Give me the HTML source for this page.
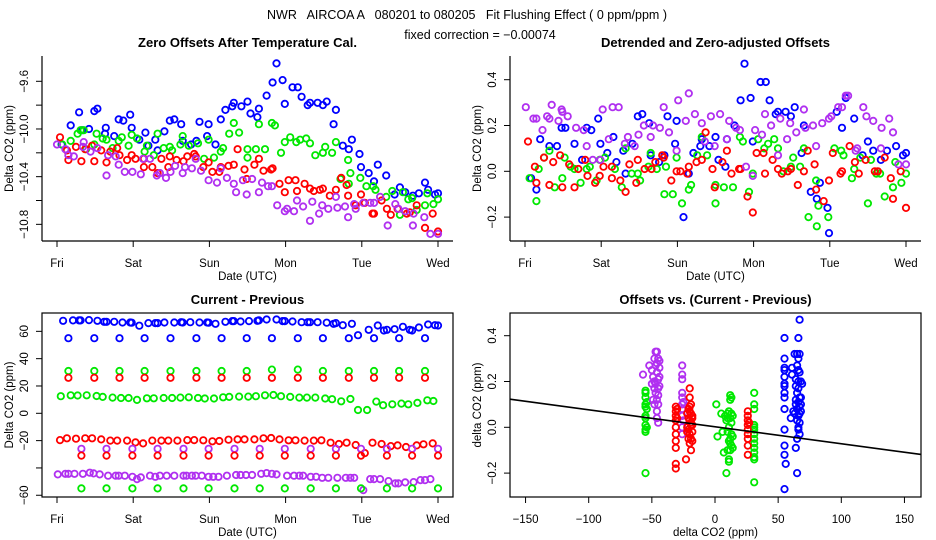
<!DOCTYPE html>
<html><head><meta charset="utf-8"><style>
html,body{margin:0;padding:0;background:#fff;}
svg{display:block;font-family:"Liberation Sans",Arial,sans-serif;}
.tk{font-size:11.5px;}
.tt{font-size:13px;font-weight:bold;}
</style></head><body>
<svg id="c" width="936" height="540" viewBox="0 0 936 540" xmlns="http://www.w3.org/2000/svg">
<text x="467" y="19" text-anchor="middle" font-size="12.5" xml:space="preserve">NWR   AIRCOA A   080201 to 080205   Fit Flushing Effect ( 0 ppm/ppm )</text>
<text x="480" y="39" text-anchor="middle" font-size="12.5">fixed correction = −0.00074</text>
<g id="g1"></g>
<g id="g2"></g>
<g id="g3"></g>
<g id="g4"></g>
</svg>
<script>
// ---------- data ----------
const dayLabels=["Fri","Sat","Sun","Mon","Tue","Wed"];
const p1YTicks=[-9.6,-9.8,-10.0,-10.2,-10.4,-10.6,-10.8];
const p1YLabels=["-9.6","","-10.0","","-10.4","","-10.8"];
const p2YTicks=[0.4,0.2,0.0,-0.2];
const p2YLabels=["0.4","0.2","0.0","-0.2"];
const p3YTicks=[60,40,20,0,-20,-40,-60];
const p3YLabels=["60","40","20","0","-20","","-60"];
const p4XTicks=[-150,-100,-50,0,50,100,150];
const p4YTicks=[0.4,0.2,0.0,-0.2];
const fitSlope=-0.00074;
const fitIntercept=0.002;

const p1BlueDays=[0.06,0.18,0.29,0.33,0.42,0.49,0.53,0.63,0.64,0.75,0.81,0.87,0.96,0.98,1.08,1.16,1.20,1.29,1.32,1.41,1.48,1.54,1.63,1.65,1.76,1.83,1.87,1.99,1.97,2.08,2.15,2.21,2.30,2.32,2.42,2.50,2.54,2.63,2.65,2.75,2.83,2.88,2.96,2.99,3.09,3.16,3.21,3.29,3.32,3.42,3.49,3.54,3.63,3.66,3.75,3.83,3.87,3.97,3.99,4.09,4.16,4.21,4.32,4.43,4.50,4.57,4.67,4.75,4.83,4.87,4.96,5.00];
const p1BlueVals=[-10.13,-9.97,-9.86,-10.01,-10.00,-9.85,-9.83,-10.04,-9.99,-10.06,-9.92,-9.93,-9.88,-9.99,-10.09,-10.03,-10.14,-10.09,-10.18,-10.02,-9.93,-9.92,-9.96,-10.10,-10.13,-10.10,-9.94,-9.96,-10.06,-10.13,-9.92,-9.84,-9.81,-9.78,-9.81,-9.77,-9.87,-9.90,-9.83,-9.72,-9.61,-9.45,-9.59,-9.79,-9.65,-9.65,-9.73,-9.80,-9.78,-9.78,-9.80,-9.77,-9.96,-9.84,-10.14,-10.17,-10.09,-10.21,-10.32,-10.37,-10.44,-10.30,-10.39,-10.55,-10.49,-10.53,-10.56,-10.54,-10.45,-10.51,-10.55,-10.54];
const p1GreenDays=[0.07,0.18,0.27,0.31,0.35,0.38,0.52,0.49,0.60,0.65,0.73,0.81,0.85,0.94,0.98,1.05,1.15,1.18,1.27,1.32,1.40,1.48,1.51,1.62,1.65,1.73,1.85,1.93,1.99,2.06,2.15,2.18,2.26,2.32,2.39,2.50,2.50,2.61,2.65,2.73,2.82,2.86,2.94,2.99,3.06,3.14,3.19,3.27,3.32,3.39,3.49,3.52,3.61,3.66,3.72,3.83,3.85,3.82,3.98,4.06,4.15,4.18,4.32,4.40,4.50,4.54,4.61,4.66,4.72,4.83,4.86,4.94,5.00];
const p1GreenVals=[-10.13,-10.10,-10.04,-10.01,-10.01,-10.17,-10.04,-10.13,-10.08,-10.09,-10.16,-10.10,-10.07,-10.14,-10.05,-10.08,-10.19,-10.14,-10.22,-10.04,-10.16,-10.15,-10.18,-10.13,-10.06,-10.14,-10.12,-10.25,-10.09,-10.24,-10.19,-10.16,-10.04,-9.95,-10.03,-10.24,-10.17,-10.17,-9.96,-10.17,-9.95,-9.97,-10.20,-10.11,-10.07,-10.11,-10.09,-10.08,-10.12,-10.22,-10.20,-10.15,-10.20,-10.11,-10.42,-10.46,-10.37,-10.26,-10.41,-10.48,-10.48,-10.51,-10.57,-10.52,-10.72,-10.53,-10.59,-10.58,-10.68,-10.64,-10.54,-10.63,-10.59];
const p1RedDays=[0.04,0.13,0.15,0.25,0.32,0.37,0.46,0.49,0.58,0.65,0.70,0.79,0.82,0.92,0.98,1.03,1.14,1.14,1.25,1.32,1.37,1.46,1.48,1.57,1.66,1.71,1.80,1.82,1.92,1.99,2.04,2.13,2.15,2.25,2.32,2.37,2.46,2.49,2.59,2.65,2.71,2.81,2.83,2.92,2.99,3.04,3.13,3.15,3.25,3.32,3.37,3.45,3.49,3.58,3.66,3.73,3.82,3.80,3.92,3.99,4.04,4.14,4.16,4.26,4.33,4.38,4.47,4.59,4.63,4.72,4.83,4.93,5.00];
const p1RedVals=[-10.07,-10.18,-10.26,-10.15,-10.27,-10.17,-10.14,-10.27,-10.18,-10.28,-10.19,-10.16,-10.22,-10.26,-10.22,-10.25,-10.32,-10.25,-10.32,-10.37,-10.25,-10.32,-10.23,-10.26,-10.27,-10.23,-10.21,-10.23,-10.32,-10.28,-10.36,-10.36,-10.32,-10.31,-10.30,-10.17,-10.34,-10.42,-10.30,-10.25,-10.35,-10.34,-10.33,-10.46,-10.53,-10.43,-10.43,-10.52,-10.46,-10.50,-10.52,-10.51,-10.50,-10.56,-10.51,-10.41,-10.56,-10.47,-10.64,-10.55,-10.62,-10.71,-10.71,-10.60,-10.67,-10.72,-10.67,-10.71,-10.70,-10.64,-10.83,-10.71,-10.86];
const p1PurpleDays=[0.00,0.11,0.15,0.22,0.34,0.35,0.44,0.53,0.65,0.67,0.77,0.81,0.89,0.99,1.10,1.13,1.22,1.31,1.35,1.43,1.49,1.55,1.65,1.68,1.77,1.82,1.89,1.99,2.10,2.15,2.23,2.32,2.35,2.44,2.49,2.56,2.65,2.69,2.77,2.82,2.89,2.99,3.02,3.11,3.15,3.23,3.32,3.35,3.44,3.48,3.56,3.66,3.68,3.78,3.82,3.90,3.92,4.02,4.11,4.16,4.24,4.34,4.44,4.48,4.57,4.67,4.68,4.82,4.90,5.00];
const p1PurpleVals=[-10.13,-10.17,-10.22,-10.23,-10.15,-10.11,-10.19,-10.16,-10.39,-10.22,-10.23,-10.30,-10.36,-10.36,-10.38,-10.25,-10.25,-10.39,-10.37,-10.41,-10.36,-10.31,-10.37,-10.32,-10.33,-10.25,-10.35,-10.43,-10.45,-10.33,-10.41,-10.46,-10.53,-10.43,-10.55,-10.42,-10.53,-10.45,-10.48,-10.48,-10.64,-10.69,-10.67,-10.69,-10.60,-10.65,-10.77,-10.61,-10.71,-10.64,-10.67,-10.57,-10.66,-10.65,-10.74,-10.63,-10.67,-10.62,-10.62,-10.62,-10.57,-10.81,-10.63,-10.67,-10.69,-10.81,-10.71,-10.74,-10.88,-10.88];

const p2BlueDays=[0.08,0.15,0.20,0.32,0.42,0.48,0.53,0.65,0.75,0.81,0.87,0.96,0.99,1.08,1.16,1.20,1.29,1.32,1.41,1.48,1.54,1.63,1.65,1.76,1.83,1.87,1.99,1.97,2.08,2.15,2.21,2.30,2.32,2.42,2.50,2.54,2.63,2.65,2.75,2.83,2.88,2.96,2.99,3.09,3.16,3.21,3.29,3.32,3.42,3.49,3.54,3.63,3.66,3.75,3.83,3.87,3.97,3.99,4.09,4.16,4.21,4.32,4.43,4.50,4.57,4.67,4.75,4.87,4.96,5.00];
const p2BlueVals=[-0.03,-0.08,0.14,0.11,0.11,0.19,0.19,0.12,0.05,0.19,0.18,0.23,0.12,0.08,0.15,0.04,0.09,-0.01,0.12,0.24,0.25,0.21,0.07,0.04,0.07,0.24,0.22,0.12,-0.20,-0.01,0.08,0.11,0.14,0.11,0.15,0.05,0.02,0.14,0.20,0.31,0.47,0.32,0.13,0.39,0.39,0.31,0.25,0.26,0.26,0.24,0.28,0.08,0.20,-0.09,-0.12,-0.05,-0.16,-0.27,0.26,0.19,0.32,0.23,0.07,0.13,0.09,0.05,0.09,0.11,0.07,0.08];
const p2GreenDays=[0.06,0.18,0.15,0.25,0.32,0.39,0.49,0.52,0.60,0.65,0.73,0.81,0.85,0.94,0.98,1.05,1.18,1.27,1.32,1.40,1.48,1.51,1.62,1.65,1.73,1.85,1.83,1.94,1.99,2.06,2.15,2.18,2.26,2.32,2.39,2.50,2.50,2.61,2.73,2.82,2.86,2.94,2.99,3.06,3.14,3.19,3.27,3.32,3.39,3.49,3.52,3.61,3.66,3.72,3.83,3.85,3.82,3.98,4.06,4.15,4.18,4.29,4.32,4.40,4.50,4.54,4.61,4.66,4.72,4.83,4.86,4.94,5.00];
const p2GreenVals=[-0.03,0.01,-0.13,0.06,0.09,-0.07,-0.03,0.06,0.02,0.01,-0.05,0.01,0.02,-0.04,0.05,0.06,0.01,-0.07,0.10,-0.01,-0.01,-0.04,0.02,0.08,0.01,0.02,-0.10,-0.10,0.06,-0.14,-0.08,-0.06,0.07,0.15,0.07,-0.14,-0.06,-0.07,-0.07,0.15,0.13,-0.09,-0.01,0.14,0.10,0.12,0.14,0.10,0.00,0.02,0.06,0.02,0.10,-0.20,-0.24,-0.15,-0.04,-0.20,0.10,0.09,0.07,-0.03,0.01,0.06,-0.14,0.05,-0.01,-0.01,-0.11,-0.07,0.04,-0.05,-0.01];
const p2RedDays=[0.04,0.13,0.15,0.25,0.32,0.37,0.46,0.49,0.58,0.65,0.70,0.79,0.82,0.92,0.98,1.03,1.14,1.14,1.25,1.32,1.37,1.46,1.48,1.57,1.66,1.71,1.80,1.82,1.92,1.99,2.04,2.13,2.15,2.25,2.32,2.37,2.46,2.49,2.59,2.65,2.71,2.81,2.83,2.92,2.99,3.04,3.13,3.15,3.25,3.32,3.37,3.45,3.49,3.58,3.66,3.71,3.82,3.80,3.92,3.99,4.04,4.14,4.16,4.26,4.33,4.38,4.47,4.59,4.63,4.72,4.80,4.83,4.93,5.00];
const p2RedVals=[0.13,0.02,-0.05,0.06,-0.06,0.04,0.07,-0.07,0.03,-0.07,0.01,0.05,-0.02,-0.05,-0.02,0.02,0.02,-0.03,-0.04,-0.09,0.03,-0.05,0.05,0.01,0.01,0.04,0.07,0.06,-0.04,0.00,0.00,-0.01,0.02,0.04,0.05,0.17,0.01,-0.07,0.04,0.09,-0.01,0.01,0.01,-0.11,-0.18,0.08,0.08,-0.01,0.05,0.01,-0.01,0.00,0.01,-0.06,0.00,0.09,-0.08,0.03,-0.13,-0.04,0.08,-0.01,0.00,0.11,0.04,-0.01,0.05,0.00,0.00,0.06,-0.03,-0.12,0.00,-0.16];
const p2PurpleDays=[0.01,0.11,0.15,0.23,0.29,0.32,0.35,0.44,0.48,0.49,0.56,0.67,0.77,0.81,0.89,0.99,1.02,1.10,1.15,1.23,1.31,1.35,1.44,1.49,1.56,1.65,1.68,1.77,1.82,1.89,1.99,2.01,2.11,2.15,2.23,2.32,2.36,2.44,2.49,2.56,2.65,2.68,2.77,2.82,2.90,2.99,3.02,3.11,3.15,3.23,3.32,3.35,3.44,3.48,3.56,3.66,3.68,3.78,3.82,3.90,3.99,4.02,4.11,4.16,4.21,4.24,4.34,4.36,4.44,4.48,4.57,4.67,4.68,4.78,4.83,4.90,5.00];
const p2PurpleVals=[0.28,0.23,0.23,0.18,0.24,0.23,0.29,0.22,0.27,0.26,0.24,0.19,0.18,0.11,0.05,0.05,0.27,0.14,0.28,0.28,0.12,0.15,0.11,0.16,0.20,0.15,0.20,0.19,0.28,0.17,0.09,0.31,0.22,0.34,0.25,0.21,0.13,0.24,0.11,0.25,0.14,0.22,0.19,0.18,0.02,-0.02,0.18,0.16,0.25,0.20,0.07,0.23,0.14,0.21,0.17,0.27,0.19,0.20,0.11,0.21,0.23,0.24,0.28,0.28,0.33,0.33,0.09,0.10,0.28,0.24,0.22,0.10,0.19,0.23,0.17,0.03,0.03];

const fixedDaysA=[0.15,0.49,0.82,1.15,1.49,1.83,2.16,2.49,2.82,3.16,3.49,3.83,4.16,4.49,4.83];
const fixedDaysB=[0.32,0.65,0.99,1.32,1.66,1.99,2.33,2.66,2.99,3.33,3.66,3.99,4.33,4.66,5.00];
const p3BlueFixedVals=[55,55,55,55,55,55,55,55,55,55,55,55,55,55,55];
const p3GreenFixedVals=[31,31,31,31,31,31,31,31,32,32,31,31,31,31,31];
const p3RedFixedVals=[26,26,26,26,26,26,26,26,26,26,26,26,26,26,26];
const p3PurpleFixedVals=[-26,-26,-26,-26,-26,-26,-26,-26,-26,-26,-26,-26,-26,-26,-26];
const p3RedFixed2Vals=[-31,-31,-31,-31,-31,-31,-31,-31,-31,-31,-31,-31,-31,-31,-31];
const p3GreenFixed2Vals=[-55,-55,-55,-55,-55,-55,-55,-55,-55,-55,-55,-55,-55,-55,-55];
const p3BlueDays=[0.08,0.21,0.29,0.31,0.42,0.53,0.62,0.65,0.75,0.86,0.96,0.98,1.08,1.20,1.29,1.32,1.41,1.54,1.63,1.65,1.75,1.87,1.97,1.99,2.08,2.21,2.30,2.32,2.41,2.52,2.63,2.65,2.75,2.88,2.96,2.99,3.09,3.21,3.29,3.32,3.42,3.54,3.63,3.66,3.75,3.87,3.95,4.09,4.21,4.29,4.33,4.43,4.54,4.63,4.66,4.75,4.87,4.96,5.00];
const p3BlueVals=[67.7,68.0,68.0,68.0,68.2,67.7,67.0,67.0,67.0,66.5,66.5,66.3,64.1,66.0,66.0,66.0,66.5,66.5,66.7,66.5,66.7,66.5,66.5,66.3,65.5,67.0,67.5,67.5,67.2,67.5,67.7,68.0,68.7,68.7,67.5,67.5,67.2,66.7,66.7,66.7,66.7,66.3,65.5,66.0,64.5,65.5,57.2,61.1,64.3,60.6,61.1,61.6,63.3,61.1,60.6,62.8,65.0,64.5,64.3];
const p3GreenDays=[0.05,0.18,0.27,0.39,0.52,0.60,0.73,0.84,0.94,1.05,1.18,1.27,1.40,1.51,1.62,1.73,1.85,1.94,2.06,2.18,2.26,2.39,2.51,2.61,2.73,2.84,2.94,3.06,3.18,3.28,3.39,3.52,3.61,3.73,3.85,3.95,4.07,4.19,4.28,4.40,4.52,4.61,4.73,4.86,4.94];
const p3GreenVals=[12.5,13.2,13.0,13.2,12.7,12.0,11.5,11.2,11.2,9.8,11.0,11.0,11.2,11.2,11.5,11.7,11.2,10.8,10.8,11.7,12.0,12.2,12.2,12.5,13.2,13.4,12.5,12.0,11.5,11.5,11.5,10.8,10.3,8.8,10.5,2.4,2.4,8.6,5.9,6.6,7.1,6.6,7.6,9.5,9.0];
const p3RedDays=[0.04,0.13,0.25,0.37,0.46,0.58,0.70,0.79,0.92,1.03,1.13,1.25,1.37,1.46,1.58,1.71,1.80,1.92,2.04,2.13,2.25,2.37,2.46,2.59,2.71,2.81,2.92,3.04,3.13,3.25,3.37,3.47,3.59,3.70,3.80,3.92,4.04,4.14,4.26,4.38,4.47,4.58,4.72,4.81,4.93];
const p3RedVals=[-19.6,-18.3,-18.6,-18.3,-18.3,-19.1,-20.0,-20.0,-20.0,-21.3,-22.0,-20.0,-20.0,-20.0,-20.0,-19.6,-19.6,-19.8,-20.5,-20.3,-19.3,-19.1,-19.1,-19.1,-18.3,-18.1,-19.1,-19.8,-19.8,-20.0,-20.0,-19.8,-21.5,-22.5,-21.5,-23.2,-29.1,-21.5,-22.5,-24.0,-23.5,-24.7,-23.5,-22.7,-22.0];
const p3PurpleDays=[0.01,0.11,0.15,0.23,0.34,0.43,0.48,0.56,0.67,0.77,0.81,0.89,0.99,1.05,1.10,1.22,1.29,1.35,1.44,1.54,1.66,1.70,1.77,1.82,1.90,1.99,2.05,2.12,2.23,2.35,2.41,2.48,2.56,2.68,2.75,2.82,2.88,3.02,3.11,3.18,3.23,3.33,3.40,3.48,3.56,3.68,3.79,3.85,3.90,4.02,4.11,4.16,4.24,4.35,4.44,4.48,4.57,4.68,4.77,4.83,4.90];
const p3PurpleVals=[-44.7,-44.3,-44.3,-44.3,-44.3,-43.5,-44.0,-44.7,-45.7,-45.7,-45.7,-45.7,-46.5,-48.2,-46.9,-45.7,-46.5,-45.7,-45.7,-45.7,-45.7,-45.7,-45.7,-45.7,-45.7,-46.5,-46.5,-46.5,-45.7,-45.2,-45.2,-45.2,-45.2,-44.3,-43.8,-44.3,-44.7,-45.7,-45.7,-45.7,-45.7,-46.5,-46.5,-47.2,-47.2,-47.2,-47.2,-47.2,-47.2,-56.2,-48.2,-48.2,-48.2,-49.6,-51.3,-51.3,-50.6,-50.4,-48.9,-48.9,-48.2];

const p4GreenX=[-55,-55,-55,-54,-55,-55,-54,-55,-55,-55,-54,-55,-55,-55,1,2,5,6,7,8,9,9,10,10,10,11,11,11,11,12,12,12,12,12,13,13,13,13,13,14,14,14,11,10,12,31,31,31,31,31,31,31,31,31,31,31,31,31,31];
const p4GreenY=[0.16,0.15,0.13,0.11,0.10,0.09,0.08,0.05,0.04,0.01,0.00,-0.01,-0.02,-0.20,0.10,-0.04,0.06,-0.02,-0.11,0.05,-0.20,0.03,-0.10,0.06,-0.02,-0.14,-0.15,0.00,0.07,0.14,0.12,0.04,-0.05,-0.07,0.13,0.02,-0.03,-0.08,0.06,-0.09,0.05,-0.04,-0.06,0.04,-0.10,0.15,0.10,0.08,0.01,-0.01,-0.03,-0.05,-0.07,-0.09,-0.11,-0.13,-0.14,-0.24,0.00];
const p4PurpleX=[-57,-52,-50,-49,-48,-47,-46,-45,-44,-48,-47,-46,-45,-44,-46,-45,-47,-49,-48,-46,-46,-45,-44,-45,-47,-45,-46,-44,-48,-50,-26,-26,-26,-26,-26,-26,-26,-26,-25,-26,-26,-25];
const p4PurpleY=[0.23,0.27,0.25,0.22,0.20,0.33,0.33,0.30,0.29,0.17,0.15,0.12,0.10,0.18,0.24,0.21,0.27,0.12,0.10,0.07,0.04,0.02,0.26,0.14,0.19,0.17,0.28,0.22,0.30,0.19,0.27,0.23,0.21,0.15,0.13,0.10,0.08,0.05,0.03,0.00,-0.03,0.11];
const p4RedX=[-31,-31,-31,-31,-31,-31,-31,-31,-31,-31,-30,-30,-23,-20,-20,-19,-22,-21,-20,-19,-18,-21,-20,-19,-18,-22,-21,-20,-19,-18,-21,-20,-19,-18,-22,-20,-19,-18,26,26,26,26,26,26,26,26,26,27];
const p4RedY=[0.09,0.07,0.05,0.03,0.00,-0.03,-0.06,-0.09,-0.16,-0.18,0.04,0.08,-0.14,0.17,0.13,-0.10,-0.02,0.08,0.07,0.06,0.05,0.04,0.03,0.02,0.01,0.00,-0.01,-0.03,-0.05,-0.06,-0.05,0.09,0.10,0.04,0.06,-0.07,0.01,-0.02,0.07,0.05,0.03,0.01,-0.01,-0.03,-0.05,-0.08,-0.12,0.02];
const p4BlueX=[55,55,55,55,55,55,55,55,55,55,55,55,55,56,55,60,61,61,62,63,63,64,64,64,64,65,65,65,65,65,65,66,66,66,66,66,66,66,66,66,67,67,67,67,67,67,67,67,68,68,68,68,69,64,65];
const p4BlueY=[0.39,0.30,0.26,0.25,0.22,0.19,0.18,0.15,0.13,0.08,-0.01,-0.08,-0.12,-0.16,-0.27,0.04,0.26,0.23,0.07,0.06,0.32,0.21,0.12,0.10,-0.09,0.32,-0.20,0.03,-0.05,0.15,0.08,0.30,0.25,0.20,0.17,0.11,0.05,0.00,0.39,-0.01,0.47,0.32,0.24,0.13,0.09,0.06,0.02,-0.03,0.20,0.13,0.10,0.07,0.19,0.18,0.27];

// ---------- drawing ----------
const NS="http://www.w3.org/2000/svg";
const BLUE="#0000ff",GREEN="#00e800",RED="#ff0000",PURPLE="#b030f0";
function mk(tag,attrs,parent){const e=document.createElementNS(NS,tag);for(const k in attrs)e.setAttribute(k,attrs[k]);parent.appendChild(e);return e;}

function line(g,x1,y1,x2,y2,w){return mk("line",{x1:x1,y1:y1,x2:x2,y2:y2,stroke:"#000","stroke-width":w||1},g);}
function txt(g,x,y,s,cls,rot){const t=mk("text",{x:x,y:y,"text-anchor":"middle",class:cls},g);if(rot)t.setAttribute("transform","rotate(-90 "+x+" "+y+")");t.textContent=s;return t;}

function points(g,xs,ys,sx,sy,color,name){
  const grp=mk("g",{},g);
  
  
  for(let i=0;i<xs.length;i++){
    const c=mk("circle",{cx:sx(xs[i]).toFixed(1),cy:sy(ys[i]).toFixed(1),r:3.2,fill:"none",stroke:color,"stroke-width":1.8},grp);
    
    
  }
}

function panelFrame(g,p,box,title,xlabel,ylabel,xt,xtl,sx,yt,ytl,sy){
  if(box){
    const r=mk("rect",{x:p.x0,y:p.y0,width:p.x1-p.x0,height:p.y1-p.y0,fill:"none",stroke:"#000","stroke-width":1.2},g);
    
    
  }else{
    line(g,p.x0,p.y0,p.x0,p.y1,1.2);line(g,p.x0,p.y1,p.x1,p.y1,1.2);
  }
  const xa=mk("g",{},g);
  
  
  for(let i=0;i<xt.length;i++){
    const px=sx(xt[i]);
    line(xa,px,p.xaxisY,px,p.xaxisY+6,1);
    const t=txt(xa,px,p.xaxisY+26,xtl[i],"tk");
    
    
  }
  const ya=mk("g",{},g);
  
  
  for(let i=0;i<yt.length;i++){
    const py=sy(yt[i]);
    line(ya,p.x0,py,p.x0-6,py,1);
    if(ytl[i]!==""){
      const t=txt(ya,p.x0-14,py,ytl[i].replace("-","\u2212"),"tk",true);
      
      
    }
  }
  const tt=txt(g,(p.x0+p.x1)/2,p.y0-9,title,"tt");
  
  
  const xl=txt(g,(p.x0+p.x1)/2,p.xaxisY+39,xlabel,"tk");
  
  
  const yl=txt(g,p.x0-29,(p.y0+p.y1)/2,ylabel,"tk",true);
  
  
}
const dayTicks=[0,1,2,3,4,5];

// Panel 1
(function(){
  const g=document.getElementById("g1");
  const p={x0:42,x1:453,y0:56,y1:241,xaxisY:241};
  const sx=d=>57+d*76.2, sy=v=>81.3+(-9.6-v)*119.2;
  panelFrame(g,p,false,"Zero Offsets After Temperature Cal.","Date (UTC)","Delta CO2 (ppm)",dayTicks,dayLabels,sx,p1YTicks,p1YLabels,sy);
  points(g,p1BlueDays,p1BlueVals,sx,sy,BLUE,"blue-series");
  points(g,p1GreenDays,p1GreenVals,sx,sy,GREEN,"green-series");
  points(g,p1RedDays,p1RedVals,sx,sy,RED,"red-series");
  points(g,p1PurpleDays,p1PurpleVals,sx,sy,PURPLE,"purple-series");
})();
// Panel 2
(function(){
  const g=document.getElementById("g2");
  const p={x0:510,x1:921,y0:56,y1:241,xaxisY:241};
  const sx=d=>525+d*76.2, sy=v=>171.3-v*229;
  panelFrame(g,p,false,"Detrended and Zero-adjusted Offsets","Date (UTC)","Delta CO2 (ppm)",dayTicks,dayLabels,sx,p2YTicks,p2YLabels,sy);
  points(g,p2BlueDays,p2BlueVals,sx,sy,BLUE,"blue-series");
  points(g,p2GreenDays,p2GreenVals,sx,sy,GREEN,"green-series");
  points(g,p2RedDays,p2RedVals,sx,sy,RED,"red-series");
  points(g,p2PurpleDays,p2PurpleVals,sx,sy,PURPLE,"purple-series");
})();
// Panel 3
(function(){
  const g=document.getElementById("g3");
  const p={x0:42,x1:453,y0:313,y1:497,xaxisY:497};
  const sx=d=>57+d*76.2, sy=v=>413.3-v*1.366;
  panelFrame(g,p,true,"Current - Previous","Date (UTC)","Delta CO2 (ppm)",dayTicks,dayLabels,sx,p3YTicks,p3YLabels,sy);
  points(g,p3BlueDays,p3BlueVals,sx,sy,BLUE,"blue-series");
  points(g,fixedDaysA,p3BlueFixedVals,sx,sy,BLUE,"blue-fixed-series");
  points(g,fixedDaysA,p3GreenFixedVals,sx,sy,GREEN,"green-fixed-series");
  points(g,fixedDaysA,p3RedFixedVals,sx,sy,RED,"red-fixed-series");
  points(g,p3GreenDays,p3GreenVals,sx,sy,GREEN,"green-series");
  points(g,p3RedDays,p3RedVals,sx,sy,RED,"red-series");
  points(g,fixedDaysB,p3PurpleFixedVals,sx,sy,PURPLE,"purple-fixed-series");
  points(g,fixedDaysB,p3RedFixed2Vals,sx,sy,RED,"red-fixed2-series");
  points(g,p3PurpleDays,p3PurpleVals,sx,sy,PURPLE,"purple-series");
  points(g,fixedDaysB,p3GreenFixed2Vals,sx,sy,GREEN,"green-fixed2-series");
})();
// Panel 4
(function(){
  const g=document.getElementById("g4");
  const p={x0:510,x1:921,y0:313,y1:497,xaxisY:497};
  const sx=x=>715+x*1.263, sy=v=>427.3-v*229;
  panelFrame(g,p,true,"Offsets vs. (Current - Previous)","delta CO2 (ppm)","delta CO2 (ppm)",p4XTicks,p4XTicks.map(v=>String(v).replace("-","\u2212")),sx,p4YTicks,p2YLabels,sy);
  points(g,p4GreenX,p4GreenY,sx,sy,GREEN,"green-series");
  points(g,p4PurpleX,p4PurpleY,sx,sy,PURPLE,"purple-series");
  points(g,p4RedX,p4RedY,sx,sy,RED,"red-series");
  points(g,p4BlueX,p4BlueY,sx,sy,BLUE,"blue-series");
  const xa=-163,xb=163;
  const fl=mk("line",{x1:p.x0,y1:sy(fitIntercept+fitSlope*xa),x2:p.x1,y2:sy(fitIntercept+fitSlope*xb),stroke:"#000","stroke-width":1.6},g);
  
  
})();
</script>
</body></html>
